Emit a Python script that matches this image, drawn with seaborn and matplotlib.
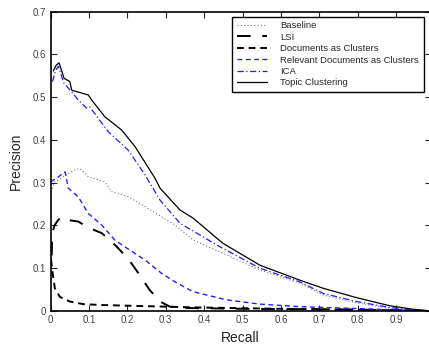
import matplotlib
matplotlib.use("Agg")
import matplotlib.pyplot as plt
import seaborn as sns

# Baseline (gray dotted)
base_r = [0.0, 0.003, 0.011, 0.02, 0.04, 0.063, 0.076, 0.098, 0.141, 0.159, 0.202, 0.246,
          0.289, 0.324, 0.371, 0.458, 0.545, 0.649, 0.71, 0.797, 0.884, 0.94, 0.975]
base_p = [0.287, 0.283, 0.302, 0.306, 0.318, 0.33, 0.333, 0.314, 0.302, 0.279, 0.267, 0.244,
          0.22, 0.201, 0.166, 0.131, 0.096, 0.065, 0.037, 0.019, 0.006, 0.002, 0.0]

# LSI (black long dash)
lsi_r = [0.003, 0.004, 0.01, 0.02, 0.028, 0.042, 0.072, 0.098, 0.133, 0.159, 0.18, 0.206,
         0.232, 0.258, 0.285, 0.311, 0.35, 0.5, 0.7, 0.9, 0.975]
lsi_p = [0.13, 0.18, 0.2, 0.213, 0.22, 0.213, 0.209, 0.195, 0.182, 0.162, 0.143, 0.117,
         0.084, 0.049, 0.022, 0.01, 0.007, 0.005, 0.004, 0.002, 0.0]

# Documents as Clusters (black short dash)
doc_r = [0.001, 0.005, 0.011, 0.024, 0.05, 0.085, 0.128, 0.215, 0.39, 0.6, 0.8, 0.975]
doc_p = [0.12, 0.09, 0.053, 0.033, 0.022, 0.016, 0.014, 0.012, 0.008, 0.005, 0.003, 0.0]

# Relevant Documents as Clusters (blue dashed)
rel_r = [0.0, 0.015, 0.033, 0.038, 0.046, 0.072, 0.098, 0.133, 0.167, 0.193, 0.246, 0.289,
         0.324, 0.371, 0.458, 0.545, 0.649, 0.75, 0.85, 0.975]
rel_p = [0.302, 0.31, 0.322, 0.325, 0.287, 0.267, 0.228, 0.201, 0.166, 0.15, 0.119, 0.088,
         0.068, 0.045, 0.026, 0.016, 0.01, 0.007, 0.004, 0.0]

# ICA (blue dash-dot)
ica_r = [0.005, 0.012, 0.02, 0.035, 0.055, 0.072, 0.094, 0.102, 0.15, 0.202, 0.246, 0.285,
         0.337, 0.441, 0.545, 0.649, 0.71, 0.797, 0.884, 0.94, 0.975]
ica_p = [0.536, 0.56, 0.572, 0.532, 0.512, 0.493, 0.474, 0.477, 0.419, 0.376, 0.318, 0.259,
         0.205, 0.15, 0.1, 0.068, 0.041, 0.022, 0.008, 0.003, 0.0]

# Topic Clustering (solid black)
topic_r = [0.007, 0.015, 0.022, 0.035, 0.05, 0.055, 0.098, 0.107, 0.141, 0.185, 0.22, 0.272,
           0.285, 0.337, 0.371, 0.449, 0.545, 0.649, 0.71, 0.797, 0.884, 0.944, 0.98]
topic_p = [0.561, 0.575, 0.58, 0.544, 0.536, 0.516, 0.505, 0.493, 0.454, 0.423, 0.384, 0.31,
           0.287, 0.236, 0.217, 0.158, 0.107, 0.072, 0.053, 0.031, 0.012, 0.004, 0.001]

sns.set_style("ticks")
plt.rcParams['font.family'] = ['Liberation Sans', 'DejaVu Sans']

fig = plt.figure(figsize=(4.29, 3.49), dpi=100)
# right edge of the axes runs just past the figure, as in the cropped original
ax = fig.add_axes([0.118, 0.109, 0.886, 0.858])

series = [
    ("Baseline", base_r, base_p, dict(color="#777777", linestyle=(0, (1, 2)), linewidth=0.8)),
    ("LSI", lsi_r, lsi_p, dict(color="black", linestyle=(0, (7, 6)), linewidth=1.4)),
    ("Documents as Clusters", doc_r, doc_p, dict(color="black", linestyle=(0, (3.5, 2.5)), linewidth=1.4)),
    ("Relevant Documents as Clusters", rel_r, rel_p, dict(color="#1f1fff", linestyle=(0, (3.5, 2.5)), linewidth=1.0)),
    ("ICA", ica_r, ica_p, dict(color="#1f1fff", linestyle=(0, (5, 2, 1, 2)), linewidth=0.9)),
    ("Topic Clustering", topic_r, topic_p, dict(color="black", linestyle="-", linewidth=0.9)),
]
for name, r, p, style in series:
    sns.lineplot(x=r, y=p, ax=ax, label=name, sort=False, estimator=None, **style)

ax.set_xlim(0, 0.99)
ax.set_ylim(0, 0.7)
ax.set_xticks([0, 0.1, 0.2, 0.3, 0.4, 0.5, 0.6, 0.7, 0.8, 0.9])
ax.set_xticklabels(["0", "0.1", "0.2", "0.3", "0.4", "0.5", "0.6", "0.7", "0.8", "0.9"])
ax.set_yticks([0, 0.1, 0.2, 0.3, 0.4, 0.5, 0.6, 0.7])
ax.set_yticklabels(["0", "0.1", "0.2", "0.3", "0.4", "0.5", "0.6", "0.7"])
ax.tick_params(direction="in", length=4, width=0.8, labelsize=7, labelcolor="#444444",
               top=True, right=True, pad=3)
for s in ax.spines.values():
    s.set_linewidth(1.2)
    s.set_color("black")
ax.set_xlabel("Recall", fontsize=10, labelpad=4)
ax.set_ylabel("Precision", fontsize=10, labelpad=7)

leg = ax.legend(loc="upper right", fontsize=6.8, fancybox=False, framealpha=1,
                edgecolor="black", handlelength=3.2, handletextpad=1.4,
                labelspacing=0.25, borderaxespad=0.55, borderpad=0.5,
                bbox_to_anchor=(0.995, 1.0))
leg.get_frame().set_linewidth(1.0)

fig.savefig("out.png", dpi=100)
